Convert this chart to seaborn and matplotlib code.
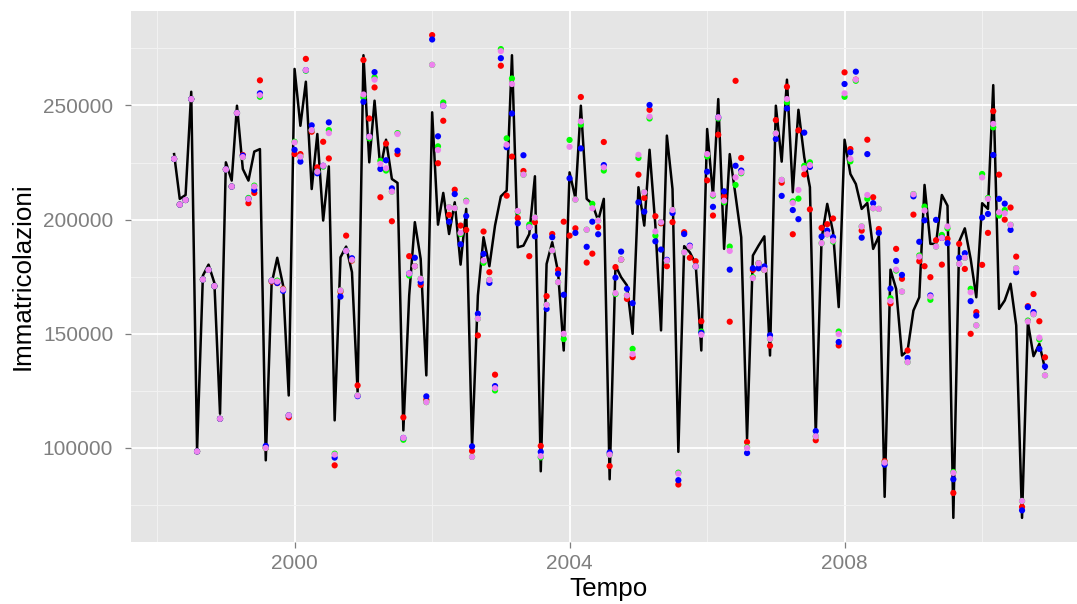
import numpy as np
import pandas as pd
import matplotlib
matplotlib.use("Agg")
import matplotlib.pyplot as plt
import matplotlib.dates as mdates
from matplotlib.ticker import FixedLocator, FuncFormatter
import seaborn as sns

# ---------------- data (monthly, Apr 1998 - Dec 2010) ----------------
start_month = "1998-04-01"
n_months = 153

immatricolazioni = [
    228700, 209100, 210800, 256000, 99000, 175500, 180300, 172300, 115000, 225100, 217100, 249900,
    222200, 217100, 229800, 230900, 94600, 171900, 183300, 171200, 123000, 266000, 241100, 260400,
    213400, 237500, 199600, 223300, 112100, 183500, 188200, 177000, 124500, 272000, 225100, 252100,
    222200, 235000, 217800, 216100, 107700, 166800, 198900, 182800, 131800, 247000, 197800, 211700,
    193700, 207600, 180300, 204700, 100400, 166800, 192300, 179600, 197400, 210200, 212700, 272000,
    187900, 188600, 193700, 219000, 89800, 180600, 190100, 177000, 142700, 220700, 209400, 249900,
    209100, 206900, 199600, 209100, 86300, 179900, 174800, 171200, 150000, 214200, 197400, 230600,
    197400, 151500, 236800, 213400, 98300, 188400, 185700, 180600, 142700, 239700, 210500, 252800,
    187200, 228700, 210500, 192300, 104100, 184300, 188600, 192700, 140500, 249900, 225400, 261300,
    212000, 248100, 227300, 214200, 105500, 191600, 206900, 194500, 161700, 235000, 220000, 215600,
    204700, 207300, 187200, 192700, 78600, 178100, 169700, 140500, 142700, 160200, 166000, 215200,
    189400, 189400, 210800, 206100, 69400, 190400, 196200, 182800, 166000, 207200, 204700, 258900,
    160900, 164600, 171900, 153700, 69400, 155100, 140200, 145600, 134700,
]

stima_rosso = [
    226600, 206600, 208600, 252800, 98500, 173800, 178000, 170900, 112800, 222000, 214500, 246700,
    228300, 207200, 211700, 261000, 100000, 172900, 172200, 169700, 113400, 228700, 228700, 270400,
    238500, 222900, 234100, 226800, 92400, 168500, 193000, 182100, 127400, 269900, 244300, 257900,
    209800, 233300, 199300, 228700, 113400, 184000, 179600, 171400, 121100, 280800, 224700, 243300,
    202100, 213100, 197400, 195500, 98700, 149300, 194800, 177000, 132100, 267400, 210500, 227600,
    200700, 221300, 184000, 198900, 100900, 166500, 193700, 178000, 199100, 193000, 196200, 253700,
    181200, 185100, 196700, 234000, 92100, 179200, 182500, 165300, 139800, 219700, 209500, 248100,
    201500, 198400, 179600, 198900, 84000, 194500, 183300, 181800, 155500, 217200, 201800, 237200,
    210200, 155300, 260800, 227000, 102600, 178000, 180900, 178000, 144800, 243600, 216200, 258200,
    193600, 239100, 219800, 204500, 103400, 196400, 198000, 200500, 144900, 264500, 230900, 261300,
    195200, 235000, 209800, 195900, 94200, 163300, 187200, 174100, 142700, 202200, 181800, 179600,
    174800, 191000, 180300, 191600, 80300, 189400, 178400, 150000, 159500, 180200, 194200, 247500,
    219700, 200000, 205300, 183800, 74200, 162100, 167400, 155500, 139700,
]

stima_verde = [
    226600, 206600, 208600, 252800, 98500, 173800, 178000, 170900, 112800, 222000, 214500, 246700,
    227400, 209500, 214900, 253800, 100000, 173300, 173300, 169400, 114300, 234100, 227600, 265200,
    239200, 221000, 223200, 239200, 97500, 169000, 186300, 182400, 123000, 253500, 235600, 262300,
    225800, 221500, 212300, 237900, 103600, 175500, 179600, 174100, 120100, 267800, 232100, 251300,
    205400, 205000, 193700, 208300, 96100, 156600, 181100, 173600, 125200, 274700, 235600, 261800,
    203500, 219700, 197800, 200900, 95900, 162700, 186500, 172600, 147700, 234900, 208800, 241600,
    195600, 206900, 199600, 221500, 97100, 167400, 182500, 166800, 143400, 227000, 212000, 244300,
    193000, 198900, 182100, 204200, 89200, 185700, 188200, 179500, 151000, 227700, 210500, 244300,
    207600, 188200, 215200, 220300, 100300, 174800, 180900, 178000, 147800, 237800, 217400, 251300,
    208000, 209200, 223600, 225100, 105100, 189700, 193600, 190400, 151000, 253800, 225500, 260800,
    197000, 209100, 205000, 204700, 93600, 165600, 177700, 168500, 137600, 211200, 184300, 205700,
    164900, 188200, 193300, 196200, 89500, 180600, 183300, 169700, 153700, 220000, 209500, 240400,
    201800, 204200, 197700, 178700, 76800, 155800, 158600, 147500, 131800,
]

stima_blu = [
    226600, 206600, 208600, 252800, 98500, 173800, 178000, 170900, 112800, 222000, 214500, 246700,
    228000, 209100, 213000, 255300, 100900, 173300, 172300, 168800, 114300, 230600, 225400, 265500,
    241300, 220300, 223600, 242600, 95800, 166300, 186300, 183100, 122700, 251600, 236300, 264600,
    222200, 226000, 213700, 230200, 104400, 176400, 183300, 172600, 122600, 278900, 236500, 249900,
    199100, 211200, 189200, 201600, 100700, 158800, 185000, 172300, 127100, 270700, 231700, 246500,
    198400, 228200, 196700, 192700, 98300, 160900, 192300, 176300, 167100, 218100, 194200, 231200,
    188100, 199100, 193600, 223900, 98000, 174600, 186000, 169700, 163400, 207600, 203500, 250200,
    190500, 186900, 182400, 202900, 85900, 193700, 188600, 179500, 150400, 221000, 205600, 244800,
    212400, 178100, 223600, 221500, 97800, 178700, 178700, 179500, 149400, 235300, 210400, 248700,
    204200, 200200, 238100, 223100, 107400, 192600, 195200, 192300, 146400, 259400, 229500, 264800,
    192100, 228700, 207200, 194200, 92700, 169800, 181900, 175800, 139400, 210200, 190300, 199700,
    166800, 199900, 192000, 189700, 86300, 183300, 185300, 164300, 158000, 200900, 202500, 228300,
    209100, 207000, 195500, 177000, 72700, 161700, 159500, 143400, 135700,
]

stima_viola = [
    226600, 206600, 208600, 252800, 98500, 173800, 178000, 170900, 112800, 222000, 214500, 246700,
    227400, 209100, 214500, 254500, 100000, 173300, 172900, 169400, 114300, 233800, 227600, 265500,
    239200, 221000, 223600, 237900, 97100, 169000, 186300, 182400, 123000, 254800, 236300, 261300,
    224400, 222500, 212300, 237500, 104400, 176400, 179600, 174100, 120100, 267800, 230500, 249900,
    205400, 205000, 194200, 207900, 96100, 156600, 182100, 173600, 126200, 273800, 232800, 259400,
    203800, 219700, 196700, 200900, 96400, 162700, 186500, 172600, 150000, 231900, 208800, 243000,
    195600, 205000, 199600, 222900, 97100, 167800, 182500, 166800, 141100, 228400, 212000, 245100,
    194800, 198900, 182100, 204200, 88800, 185700, 188200, 179500, 149600, 228700, 211000, 244800,
    208300, 186300, 218500, 220700, 100000, 174400, 180900, 178000, 147800, 237800, 217400, 252800,
    207300, 213000, 222500, 223900, 105100, 189700, 193600, 190800, 149900, 255300, 226600, 261300,
    197000, 210800, 205000, 204700, 93600, 164400, 178100, 168500, 137600, 211100, 183800, 204000,
    166300, 188200, 192000, 197000, 89100, 180600, 183300, 168200, 153700, 218500, 209100, 241900,
    203200, 202800, 197700, 178700, 76800, 155400, 158600, 148300, 131800,
]

serie_nomi = ["rosso", "verde", "blu", "viola"]
serie_colori = ["#FF0000", "#00FF00", "#0000FF", "#EE82EE"]

y_major = [100000, 150000, 200000, 250000]
y_minor = [75000, 125000, 175000, 225000, 275000]

# ---------------- frames ----------------
tempo = pd.date_range(start_month, periods=n_months, freq="MS")
df_line = pd.DataFrame({"Tempo": tempo, "Immatricolazioni": immatricolazioni})
df_pts = pd.concat(
    [pd.DataFrame({"Tempo": tempo, "Immatricolazioni": v, "serie": n})
     for n, v in zip(serie_nomi, [stima_rosso, stima_verde, stima_blu, stima_viola])],
    ignore_index=True,
)

# ---------------- style ----------------
sns.set_style({
    "axes.facecolor": "#E5E5E5",
    "figure.facecolor": "white",
    "axes.edgecolor": "none",
    "grid.color": "white",
    "axes.grid": True,
})
plt.rcParams["font.family"] = ["Liberation Sans", "DejaVu Sans"]

W, H = 1077, 604
fig = plt.figure(figsize=(W / 100, H / 100), dpi=100)
pl, pr, pt, pb = 131, 1077, 11, 542
ax = fig.add_axes([pl / W, (H - pb) / H, (pr - pl) / W, (pb - pt) / H])

sns.lineplot(data=df_line, x="Tempo", y="Immatricolazioni", color="black",
             linewidth=1.8, ax=ax, zorder=3)
sns.scatterplot(data=df_pts, x="Tempo", y="Immatricolazioni", hue="serie",
                hue_order=serie_nomi, palette=serie_colori, s=20, linewidth=0,
                legend=False, ax=ax, zorder=4)

# x axis
ax.set_xlim(pd.Timestamp("1997-08-15"), pd.Timestamp("2011-05-20"))
ax.xaxis.set_major_locator(mdates.YearLocator(4))
ax.xaxis.set_minor_locator(mdates.YearLocator(2))
ax.xaxis.set_major_formatter(mdates.DateFormatter("%Y"))

# y axis
ax.set_ylim(58830, 291370)
ax.yaxis.set_major_locator(FixedLocator(y_major))
ax.yaxis.set_minor_locator(FixedLocator(y_minor))
ax.yaxis.set_major_formatter(FuncFormatter(lambda v, p: f"{int(v)}"))

ax.grid(which="major", color="white", linewidth=1.3)
ax.grid(which="minor", color="#F2F2F2", linewidth=0.7)
ax.set_axisbelow(True)

ax.tick_params(axis="both", which="major", length=4.3, width=0.9, color="#7F7F7F",
               labelcolor="#7F7F7F", labelsize=15)
ax.tick_params(axis="x", which="major", pad=4)
ax.tick_params(axis="y", which="major", pad=8.5)
ax.tick_params(which="minor", length=0)
for s in ax.spines.values():
    s.set_visible(False)

ax.set_xlabel("Tempo", fontsize=18.7, color="black")
ax.set_ylabel("Immatricolazioni", fontsize=18.7, color="black")
ax.xaxis.set_label_coords((609 - pl) / (pr - pl), -(577 - pb) / (pb - pt))
ax.yaxis.set_label_coords((35 - pl) / (pr - pl), 0.5)

fig.savefig("out.png", dpi=100)
